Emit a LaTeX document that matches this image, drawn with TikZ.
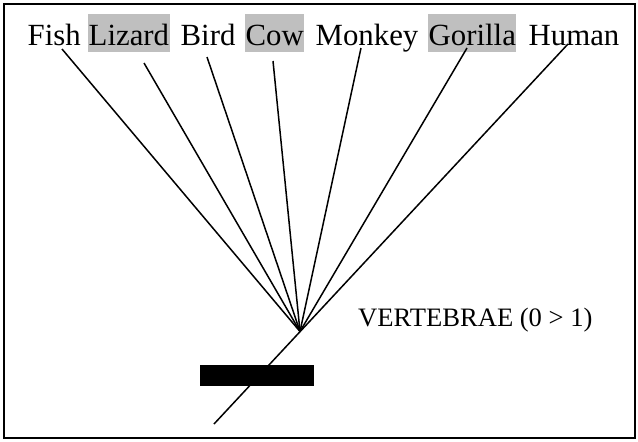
\documentclass[tikz,border=0pt]{standalone}
\usepackage{fontspec}
\setmainfont{Liberation Serif}
\begin{document}
\begin{tikzpicture}[x=1pt,y=-1pt,
  word/.style={anchor=base west,inner xsep=0.5pt,inner ysep=0pt,text height=31pt,text depth=7pt,font=\fontsize{30.8}{36}\selectfont},
  hl/.style={word,fill=gray!50},
  branch/.style={line width=1.5pt},
  lbl/.style={anchor=base west,inner sep=0pt,font=\fontsize{26.6}{30}\selectfont}]
\useasboundingbox (0,0) rectangle (638,442);
\draw[line width=2pt] (4,4) rectangle (635,438);
\node[word] (fish) at (27,45) {Fish};
\node[hl] (lizard) at (88,45) {Lizard};
\node[word] (bird) at (180,45) {Bird};
\node[hl] (cow) at (245,45) {Cow};
\node[word] (monkey) at (315,45) {Monkey};
\node[hl] (gorilla) at (428,45) {Gorilla};
\node[word] (human) at (528,45) {Human};
\coordinate (fishT) at (62,49);
\coordinate (lizardT) at (144,63);
\coordinate (birdT) at (207,57);
\coordinate (cowT) at (273,61);
\coordinate (monkeyT) at (361,48);
\coordinate (gorillaT) at (467,48);
\coordinate (humanT) at (568,44);
\coordinate (root) at (214,424);
\coordinate (v) at (300,331.5);
\foreach \n in {fishT,lizardT,birdT,cowT,monkeyT,gorillaT}
  \draw[branch] (\n) -- (v);
\draw[branch] (root) -- (humanT);
\node[draw=none,fill=black,inner sep=0pt,minimum width=114pt,minimum height=21pt,anchor=north west] (bar) at (200,365) {};
\node[lbl] (vert) at (358,326) {VERTEBRAE (0 {>} 1)};
\end{tikzpicture}
\end{document}
